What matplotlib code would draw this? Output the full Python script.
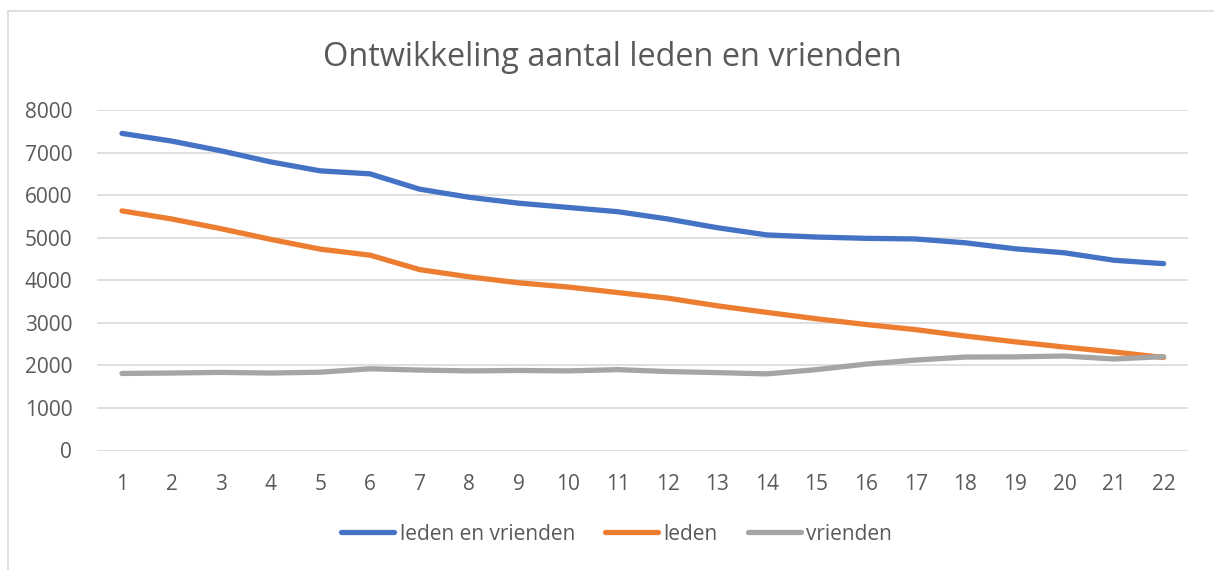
import matplotlib
matplotlib.use("Agg")
import matplotlib.pyplot as plt
from matplotlib.patches import Rectangle

plt.rcParams['font.family'] = ['Open Sans', 'DejaVu Sans']

jaren = list(range(1, 23))
leden_en_vrienden = [7450, 7270, 7040, 6780, 6570, 6500, 6140, 5950, 5810, 5710,
                     5610, 5440, 5235, 5065, 5015, 4985, 4970, 4880, 4740, 4645,
                     4470, 4390]
leden = [5630, 5440, 5210, 4960, 4730, 4590, 4250, 4080, 3940, 3840,
         3710, 3580, 3400, 3245, 3095, 2960, 2840, 2690, 2555, 2430,
         2315, 2185]
vrienden = [1810, 1820, 1835, 1820, 1840, 1920, 1890, 1870, 1880, 1870,
            1900, 1855, 1830, 1800, 1900, 2030, 2125, 2195, 2200, 2220,
            2150, 2205]

tekst = "#595959"

fig = plt.figure(figsize=(12.14, 5.70), dpi=100)
fig.patches.append(Rectangle((8 / 1214, -0.1), 1.2, 1 - 11 / 570 + 0.1,
                             transform=fig.transFigure, fill=False,
                             edgecolor="#D9D9D9", linewidth=1.2))

ax = fig.add_axes([97.2 / 1214, 1 - 450.5 / 570, 1091.2 / 1214, 340.5 / 570])

lw = 3.8
ax.plot(jaren, leden_en_vrienden, color="#4472C4", lw=lw, solid_capstyle="round",
        solid_joinstyle="round", label="leden en vrienden")
ax.plot(jaren, leden, color="#ED7D31", lw=lw, solid_capstyle="round",
        solid_joinstyle="round", label="leden")
ax.plot(jaren, vrienden, color="#A5A5A5", lw=lw, solid_capstyle="round",
        solid_joinstyle="round", label="vrienden")

ax.set_xlim(0.5, 22.5)
ax.set_ylim(0, 8000)
ax.set_xticks(jaren)
ax.set_yticks(range(0, 8001, 1000))
ax.grid(axis="y", color="#D9D9D9", linewidth=1.2)
ax.set_axisbelow(True)
for s in ax.spines.values():
    s.set_visible(False)
ax.tick_params(length=0, labelsize=15, labelcolor=tekst)
ax.tick_params(axis="x", pad=17)
ax.tick_params(axis="y", pad=18)

fig.text(0.5045, 1 - 57 / 570, "Ontwikkeling aantal leden en vrienden",
         ha="center", va="center", fontsize=23.4, color=tekst)

fig.legend(loc="center", bbox_to_anchor=(0.508, 1 - 534 / 570), ncol=3,
           frameon=False, fontsize=15, labelcolor=tekst, handlelength=2.55,
           handletextpad=0.25, columnspacing=1.45)

fig.savefig("out.png", dpi=100)
